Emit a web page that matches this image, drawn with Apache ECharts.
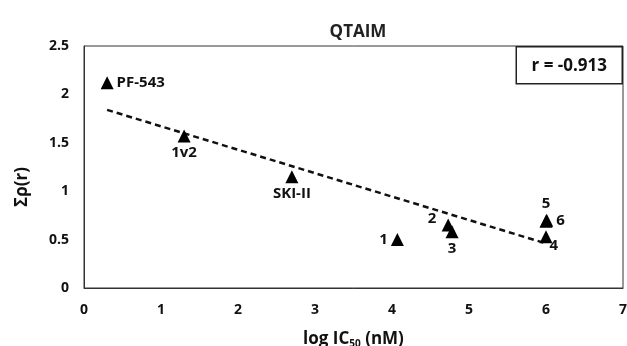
<!DOCTYPE html>
<html>
<head>
<meta charset="utf-8">
<script src="https://cdn.jsdelivr.net/npm/echarts@6/dist/echarts.min.js"></script>
<style>
  html, body { margin: 0; padding: 0; background: #fff; }
  #container { width: 627px; height: 346px; }
</style>
</head>
<body>
<div id="container"></div>
<script>
// compounds
var names = ['PF-543', '1v2', 'SKI-II', '1', '2', '3', '4', '5', '6'];
var logIC50 = [0.3, 1.3, 2.7, 4.07, 4.73, 4.78, 6.0, 6.0, 6.01];
var sumRho = [2.12, 1.57, 1.15, 0.5, 0.65, 0.58, 0.53, 0.69, 0.7];

// dashed trend line end points
var trendX = [0.3, 6.0];
var trendY = [1.84, 0.46];

var xTicks = [0, 1, 2, 3, 4, 5, 6, 7];
var yTicks = [0, 0.5, 1, 1.5, 2, 2.5];
var rText = 'r = -0.913';

// where each label sits relative to its triangle
var labelPos = {
  'PF-543': 'right', '1v2': 'bottom', 'SKI-II': 'bottom',
  '1': 'left', '2': [-14, -7], '3': 'bottom', '4': [10, 8], '5': 'top', '6': 'right'
};

var font = '"Open Sans", Lato, sans-serif';
var dom = document.getElementById('container');
var myChart = echarts.init(dom);

var points = [];
for (var i = 0; i < names.length; i++) {
  var pos = labelPos[names[i]];
  points.push({
    name: names[i],
    value: [logIC50[i], sumRho[i]],
    label: { position: pos, distance: 3 }
  });
}
var trend = [];
for (var j = 0; j < trendX.length; j++) {
  trend.push([trendX[j], trendY[j]]);
}

var option = {
  animation: false,
  title: {
    text: 'QTAIM',
    left: 353, top: 19, textAlign: 'center',
    textStyle: { fontFamily: font, fontWeight: 'bold', fontSize: 17, color: '#222' }
  },
  grid: {
    left: 84, right: 4, top: 46, bottom: 58,
    containLabel: false, outerBoundsMode: 'none',
    show: true, borderColor: '#333', borderWidth: 1
  },
  xAxis: {
    type: 'value', min: xTicks[0], max: xTicks[xTicks.length - 1], interval: 1,
    axisLine: { lineStyle: { color: '#333' } },
    axisTick: { show: false },
    splitLine: { show: false },
    axisLabel: { margin: 15, color: '#111', fontFamily: font, fontWeight: 'bold', fontSize: 14 },
    name: '{a|log IC}{s|50}{a| (nM)}',
    nameLocation: 'middle', nameGap: 42,
    nameTextStyle: {
      rich: {
        a: { fontFamily: font, fontWeight: 'bold', fontSize: 17, color: '#111' },
        s: { fontFamily: font, fontWeight: 'bold', fontSize: 10, color: '#111', verticalAlign: 'bottom', padding: [9, 0, 0, 0] }
      }
    }
  },
  yAxis: {
    type: 'value', min: yTicks[0], max: yTicks[yTicks.length - 1], interval: 0.5,
    axisLine: { show: true, lineStyle: { color: '#333' } },
    axisTick: { show: false },
    splitLine: { show: false },
    axisLabel: { margin: 15, color: '#111', fontFamily: font, fontWeight: 'bold', fontSize: 14 },
    name: 'Σρ(r)',
    nameLocation: 'middle', nameGap: 53,
    nameTextStyle: { fontFamily: font, fontWeight: 'bold', fontSize: 17, color: '#111', padding: [0, 40, 0, 0] }
  },
  series: [
    {
      name: 'trend',
      type: 'line',
      data: trend,
      symbol: 'none',
      lineStyle: { color: '#111', width: 2.5, type: [6, 4] },
      z: 1
    },
    {
      name: 'compounds',
      type: 'scatter',
      symbol: 'triangle',
      symbolSize: 13,
      itemStyle: { color: '#000', opacity: 1 },
      data: points,
      label: {
        show: true,
        formatter: '{b}',
        fontFamily: font, fontWeight: 'bold', fontSize: 15, color: '#111'
      },
      z: 2
    }
  ],
  graphic: [
    {
      type: 'group', right: 4, top: 46,
      children: [
        { type: 'rect', shape: { x: 0, y: 0, width: 106, height: 37 },
          style: { fill: '#fff', stroke: '#222', lineWidth: 1.5 } },
        { type: 'text', x: 53, y: 19,
          style: { text: rText, fill: '#111', font: 'bold 17px ' + font, textAlign: 'center', textVerticalAlign: 'middle' } }
      ]
    }
  ]
};

if (option && typeof option === 'object') {
  myChart.setOption(option, true);
}
</script>
</body>
</html>
